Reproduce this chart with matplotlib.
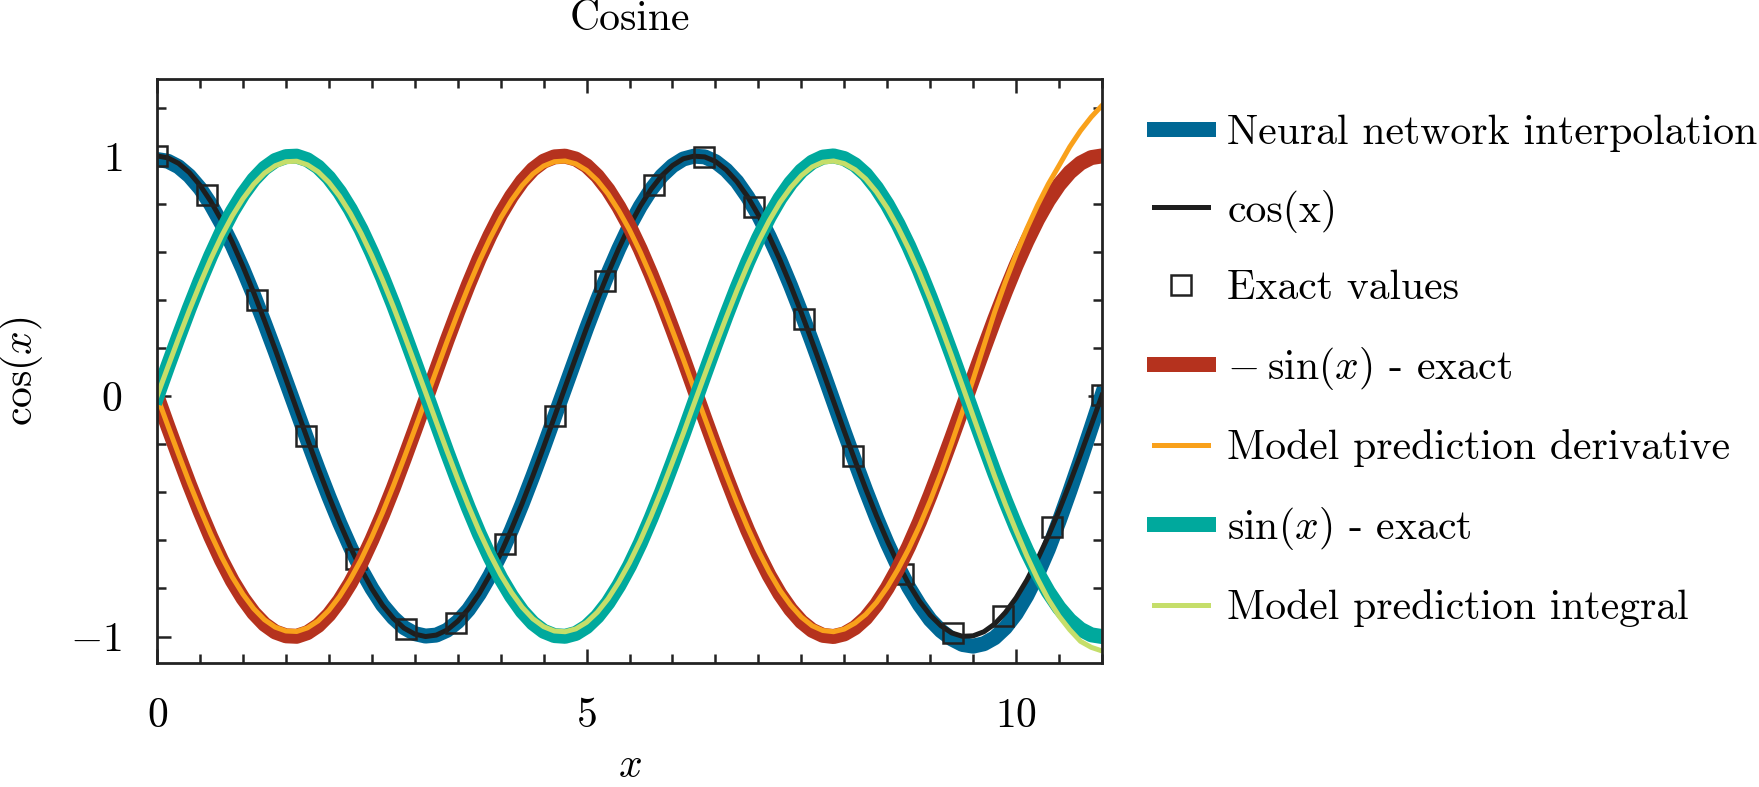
import matplotlib
matplotlib.use("Agg")
import matplotlib.pyplot as plt
from matplotlib.ticker import MultipleLocator

plt.rcParams['font.family'] = 'serif'
plt.rcParams['font.serif'] = ['cmr10']
plt.rcParams['mathtext.fontset'] = 'cm'
plt.rcParams['axes.formatter.use_mathtext'] = True
plt.rcParams['axes.unicode_minus'] = True

# sample grid (step 0.125) on which the curves were read
x_grid = [i * 0.125 for i in range(89)]

nn_interp = [0.985, 0.978, 0.955, 0.917, 0.865, 0.798, 0.718, 0.628, 0.528, 0.420, 0.305, 0.186, 0.063,
             -0.060, -0.183, -0.303, -0.418, -0.527, -0.628, -0.720, -0.800, -0.869, -0.922, -0.963, -0.988, -0.998,
             -0.994, -0.974, -0.938, -0.888, -0.823, -0.746, -0.657, -0.557, -0.448, -0.332, -0.212, -0.088, 0.036,
             0.160, 0.283, 0.400, 0.511, 0.614, 0.708, 0.790, 0.860, 0.917, 0.959, 0.987, 0.999, 0.996,
             0.976, 0.941, 0.893, 0.829, 0.753, 0.665, 0.567, 0.460, 0.346, 0.226, 0.103, -0.023, -0.149,
             -0.272, -0.392, -0.506, -0.612, -0.708, -0.795, -0.868, -0.930, -0.976, -1.010, -1.033, -1.040, -1.030,
             -1.005, -0.963, -0.905, -0.830, -0.740, -0.637, -0.520, -0.395, -0.265, -0.131, 0.005]

cos_exact = [1.000, 0.992, 0.969, 0.931, 0.878, 0.811, 0.732, 0.641, 0.540, 0.431, 0.315, 0.195, 0.071,
             -0.054, -0.178, -0.300, -0.416, -0.526, -0.628, -0.720, -0.801, -0.870, -0.924, -0.965, -0.990, -1.000,
             -0.994, -0.973, -0.936, -0.885, -0.821, -0.743, -0.654, -0.554, -0.446, -0.331, -0.211, -0.087, 0.038,
             0.162, 0.284, 0.401, 0.512, 0.615, 0.709, 0.791, 0.861, 0.918, 0.960, 0.988, 0.999, 0.996,
             0.977, 0.942, 0.893, 0.830, 0.754, 0.666, 0.568, 0.461, 0.347, 0.227, 0.104, -0.021, -0.146,
             -0.268, -0.386, -0.498, -0.602, -0.697, -0.781, -0.853, -0.911, -0.955, -0.985, -0.999, -0.997, -0.980,
             -0.948, -0.900, -0.839, -0.765, -0.678, -0.582, -0.476, -0.362, -0.243, -0.120, 0.004]

sin_exact = [0.000, 0.125, 0.247, 0.366, 0.479, 0.585, 0.682, 0.768, 0.841, 0.902, 0.949, 0.981, 0.997,
             0.999, 0.984, 0.954, 0.909, 0.850, 0.778, 0.694, 0.598, 0.494, 0.382, 0.263, 0.141, 0.017,
             -0.108, -0.232, -0.351, -0.465, -0.572, -0.669, -0.757, -0.832, -0.895, -0.944, -0.978, -0.996, -0.999,
             -0.987, -0.959, -0.916, -0.859, -0.788, -0.706, -0.612, -0.508, -0.397, -0.279, -0.158, -0.033, 0.092,
             0.215, 0.335, 0.450, 0.558, 0.657, 0.746, 0.823, 0.887, 0.938, 0.974, 0.995, 1.000, 0.989,
             0.963, 0.923, 0.867, 0.798, 0.717, 0.625, 0.523, 0.412, 0.295, 0.174, 0.050, -0.075, -0.199,
             -0.320, -0.435, -0.544, -0.644, -0.735, -0.814, -0.880, -0.932, -0.970, -0.993, -1.000]

neg_sin_exact = [-v for v in sin_exact]

pred_deriv = [0.000, -0.122, -0.242, -0.359, -0.469, -0.573, -0.668, -0.752, -0.824, -0.884, -0.930, -0.961, -0.977,
              -0.979, -0.964, -0.935, -0.891, -0.833, -0.762, -0.680, -0.586, -0.484, -0.374, -0.258, -0.138, -0.017,
              0.106, 0.227, 0.344, 0.456, 0.561, 0.656, 0.742, 0.815, 0.877, 0.925, 0.958, 0.976, 0.979,
              0.967, 0.940, 0.898, 0.842, 0.772, 0.692, 0.600, 0.498, 0.389, 0.273, 0.155, 0.032, -0.090,
              -0.211, -0.328, -0.441, -0.547, -0.644, -0.731, -0.807, -0.869, -0.919, -0.955, -0.975, -0.980, -0.969,
              -0.944, -0.908, -0.858, -0.795, -0.720, -0.635, -0.540, -0.435, -0.320, -0.195, -0.065, 0.070, 0.210,
              0.350, 0.475, 0.590, 0.697, 0.795, 0.883, 0.960, 1.038, 1.105, 1.162, 1.210]

pred_integral = [0.000, 0.121, 0.241, 0.357, 0.467, 0.571, 0.666, 0.750, 0.822, 0.882, 0.928, 0.959, 0.976,
                 0.978, 0.963, 0.934, 0.890, 0.832, 0.761, 0.678, 0.585, 0.483, 0.373, 0.257, 0.137, 0.016,
                 -0.107, -0.228, -0.345, -0.457, -0.562, -0.657, -0.743, -0.816, -0.878, -0.926, -0.959, -0.977, -0.980,
                 -0.968, -0.941, -0.899, -0.843, -0.773, -0.693, -0.601, -0.499, -0.390, -0.274, -0.156, -0.033, 0.089,
                 0.210, 0.327, 0.440, 0.546, 0.643, 0.730, 0.806, 0.868, 0.918, 0.954, 0.974, 0.979, 0.968,
                 0.943, 0.904, 0.850, 0.783, 0.703, 0.613, 0.513, 0.404, 0.289, 0.168, 0.043, -0.083, -0.208,
                 -0.333, -0.450, -0.560, -0.665, -0.760, -0.845, -0.915, -0.972, -1.020, -1.045, -1.060]

# exact sample points (squares)
x_samples = [0.0, 0.579, 1.158, 1.737, 2.316, 2.895, 3.474, 4.053, 4.632, 5.211,
             5.789, 6.368, 6.947, 7.526, 8.105, 8.684, 9.263, 9.842, 10.421, 11.0]
y_samples = [1.000, 0.837, 0.401, -0.165, -0.677, -0.970, -0.945, -0.613, -0.081,
             0.478, 0.881, 0.996, 0.787, 0.322, -0.249, -0.738, -0.987, -0.914,
             -0.543, 0.004]

fs = 30

fig = plt.figure(figsize=(17.59, 7.87), dpi=100)
ax = fig.add_axes([0.0893, 0.1576, 0.5372, 0.742])

ax.plot(x_grid, nn_interp, color='#006895', lw=10.8, label='Neural network interpolation')
ax.plot(x_grid, cos_exact, color='#1e1e1e', lw=3.6, label='cos(x)')
ax.plot(x_samples, y_samples, ls='none', marker='s', ms=14.5, mfc='none',
        mec='#222222', mew=1.8, label='Exact values')
ax.plot(x_grid, neg_sin_exact, color='#b5321e', lw=10.8, label=r'$-\:\sin(x)$ - exact')
ax.plot(x_grid, pred_deriv, color='#f9a11b', lw=3.6, label='Model prediction derivative')
ax.plot(x_grid, sin_exact, color='#00a99d', lw=10.8, label=r'$\sin(x)$ - exact')
ax.plot(x_grid, pred_integral, color='#c5de6a', lw=3.6, label='Model prediction integral')

ax.set_xlim(0, 11)
ax.set_ylim(-1.11, 1.32)
ax.xaxis.set_major_locator(MultipleLocator(5))
ax.xaxis.set_minor_locator(MultipleLocator(0.5))
ax.yaxis.set_major_locator(MultipleLocator(1))
ax.yaxis.set_minor_locator(MultipleLocator(0.2))
ax.tick_params(which='both', direction='in', top=True, right=True,
               color='#222222', width=1.8, labelsize=fs, pad=25)
ax.tick_params(which='major', length=10)
ax.tick_params(which='minor', length=6.5)
for sp in ax.spines.values():
    sp.set_linewidth(2.0)
    sp.set_color('#222222')

ax.set_title('Cosine', fontsize=fs, pad=35)
ax.set_xlabel(r'$x$', fontsize=fs, labelpad=9)
ax.set_ylabel(r'$\cos(x)$', fontsize=fs, labelpad=18)

ax.legend(loc='center left', bbox_to_anchor=(1.055, 0.5), frameon=False,
          fontsize=fs, borderpad=0, borderaxespad=0, handlelength=1.3,
          handletextpad=0.46, labelspacing=0.9)

fig.savefig('out.png', dpi=100)
